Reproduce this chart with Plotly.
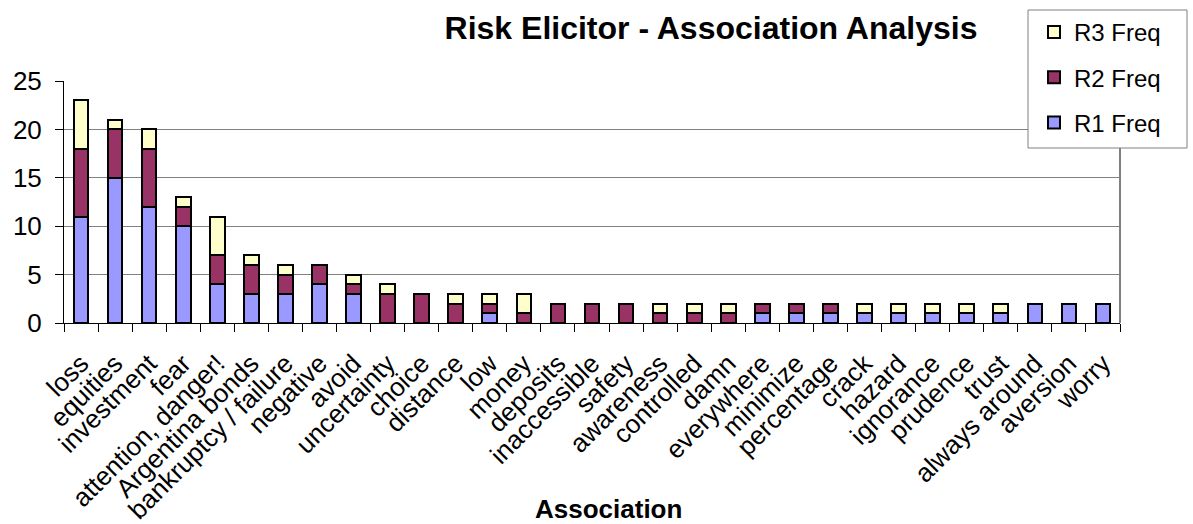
import plotly.graph_objects as go

associations = [
    "loss", "equities", "investment", "fear", "attention, danger!",
    "Argentina bonds", "bankruptcy / failure", "negative", "avoid",
    "uncertainty", "choice", "distance", "low", "money", "deposits",
    "inaccessible", "safety", "awareness", "controlled", "damn",
    "everywhere", "minimize", "percentage", "crack", "hazard",
    "ignorance", "prudence", "trust", "always around", "aversion", "worry",
]
r1_freq = [11, 15, 12, 10, 4, 3, 3, 4, 3, 0, 0, 0, 1, 0, 0, 0, 0, 0, 0, 0,
           1, 1, 1, 1, 1, 1, 1, 1, 2, 2, 2]
r2_freq = [7, 5, 6, 2, 3, 3, 2, 2, 1, 3, 3, 2, 1, 1, 2, 2, 2, 1, 1, 1,
           1, 1, 1, 0, 0, 0, 0, 0, 0, 0, 0]
r3_freq = [5, 1, 2, 1, 4, 1, 1, 0, 1, 1, 0, 1, 1, 2, 0, 0, 0, 1, 1, 1,
           0, 0, 0, 1, 1, 1, 1, 1, 0, 0, 0]

# (legend name, values, fill colour, legend rank) - stacked bottom to top
series = [
    ("R1 Freq", r1_freq, "#9999FF", 3),
    ("R2 Freq", r2_freq, "#993366", 2),
    ("R3 Freq", r3_freq, "#FFFFCC", 1),
]

FONT = "Liberation Sans, Arial, sans-serif"
W, H = 1193, 524
M_L, M_R, M_T, M_B = 64, 73, 81, 201
PLOT_W = W - M_L - M_R
PLOT_H = H - M_T - M_B

# legend frame, in page pixels
LEG_X0, LEG_X1, LEG_Y0, LEG_Y1 = 1028, 1187, 10, 148


def px_to_paper_x(px):
    return (px - M_L) / PLOT_W


def px_to_paper_y(py):
    return (H - M_B - py) / PLOT_H


fig = go.Figure()
for name, values, color, rank in series:
    fig.add_trace(go.Bar(
        x=associations,
        y=values,
        name=name,
        legendgroup=name,
        legendrank=rank,
        marker=dict(color=color, line=dict(color="#000000", width=2)),
    ))

fig.update_layout(
    width=W,
    height=H,
    barmode="stack",
    bargap=0.57,
    paper_bgcolor="#FFFFFF",
    plot_bgcolor="#FFFFFF",
    font=dict(family=FONT, color="#000000"),
    margin=dict(l=M_L, r=M_R, t=M_T, b=M_B, autoexpand=False),
    title=dict(
        text="<b>Risk Elicitor - Association Analysis</b>",
        font=dict(size=32, family=FONT, color="#000000"),
        x=711 / W, xanchor="center", xref="container",
        y=1 - 28 / H, yanchor="middle", yref="container",
    ),
    legend=dict(
        xref="container", yref="container",
        x=(LEG_X0 + 6) / W, y=1 - LEG_Y0 / H,
        xanchor="left", yanchor="top",
        traceorder="grouped",
        tracegroupgap=11,
        bgcolor="rgba(0,0,0,0)",
        borderwidth=0,
        font=dict(size=24, family=FONT),
    ),
    xaxis=dict(
        tickangle=-45,
        tickfont=dict(size=26, family=FONT),
        ticklabelstandoff=14,
        showline=True, linecolor="#000000", linewidth=1,
        ticks="outside", tickson="boundaries", ticklen=8,
        tickcolor="#000000", tickwidth=1,
        showgrid=False,
        automargin=False,
    ),
    yaxis=dict(
        range=[0, 25],
        dtick=5,
        tickfont=dict(size=26, family=FONT),
        ticklabelstandoff=8,
        showline=True, linecolor="#000000", linewidth=1,
        ticks="outside", ticklen=8, tickcolor="#000000",
        showgrid=True, gridcolor="#808080", gridwidth=1,
        zeroline=False,
        automargin=False,
    ),
    annotations=[dict(
        text="<b>Association</b>",
        xref="paper", yref="paper",
        x=0.5 + 16 / PLOT_W, y=px_to_paper_y(509),
        xanchor="center", yanchor="middle",
        showarrow=False,
        font=dict(size=26, family=FONT, color="#000000"),
    )],
    shapes=[
        # right edge of the plot area
        dict(
            type="line", xref="paper", yref="paper",
            x0=1, x1=1, y0=0, y1=1,
            line=dict(color="#808080", width=2),
        ),
        # legend frame
        dict(
            type="rect", xref="paper", yref="paper", layer="above",
            x0=px_to_paper_x(LEG_X0), x1=px_to_paper_x(LEG_X1),
            y0=px_to_paper_y(LEG_Y1), y1=px_to_paper_y(LEG_Y0),
            fillcolor="#FFFFFF",
            line=dict(color="#808080", width=1),
        ),
    ],
)

fig.write_html("out.html")
